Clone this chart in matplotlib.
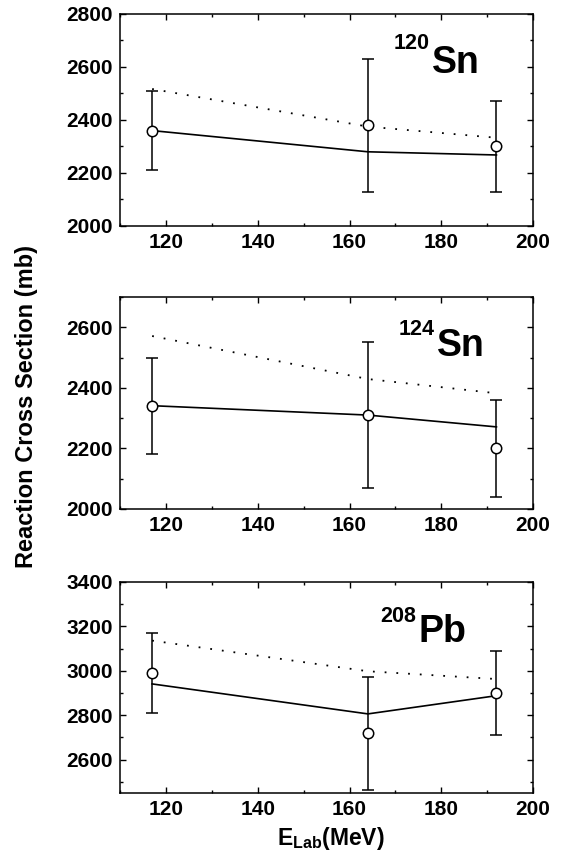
import matplotlib
matplotlib.use('Agg')
import matplotlib.pyplot as plt
from matplotlib.ticker import MultipleLocator

plt.rcParams['font.family'] = ['Liberation Sans', 'DejaVu Sans']
plt.rcParams['font.weight'] = 'bold'
plt.rcParams['mathtext.fontset'] = 'custom'
plt.rcParams['mathtext.rm'] = 'Liberation Sans:bold'
plt.rcParams['mathtext.bf'] = 'Liberation Sans:bold'
plt.rcParams['mathtext.it'] = 'Liberation Sans:bold'

# Energias del haz (MeV)
energia = [117, 164, 192]

# 120Sn
exp_120 = [2360, 2380, 2300]
err_120_sup = [150, 250, 170]
err_120_inf = [150, 250, 170]
calc_120 = [2360, 2280, 2268]
punt_120 = [2517, 2375, 2333]

# 124Sn
exp_124 = [2340, 2310, 2200]
err_124_sup = [160, 240, 160]
err_124_inf = [160, 240, 160]
calc_124 = [2341, 2310, 2271]
punt_124 = [2571, 2429, 2382]

# 208Pb
exp_208 = [2990, 2720, 2900]
err_208_sup = [180, 250, 190]
err_208_inf = [180, 255, 190]
calc_208 = [2941, 2806, 2888]
punt_208 = [3136, 2998, 2963]

masas = ['120', '124', '208']
elementos = ['Sn', 'Sn', 'Pb']

paneles = [
    (exp_120, err_120_inf, err_120_sup, calc_120, punt_120, (2000, 2800), [2000, 2200, 2400, 2600, 2800]),
    (exp_124, err_124_inf, err_124_sup, calc_124, punt_124, (2000, 2700), [2000, 2200, 2400, 2600]),
    (exp_208, err_208_inf, err_208_sup, calc_208, punt_208, (2450, 3400), [2600, 2800, 3000, 3200, 3400]),
]

fig = plt.figure(figsize=(5.66, 8.58), dpi=100)
posiciones = [
    [0.212, 0.7366, 0.730, 0.2471],
    [0.212, 0.4068, 0.730, 0.2471],
    [0.212, 0.0758, 0.730, 0.2459],
]
# posicion de la etiqueta (x izquierda del simbolo, linea base simbolo, linea base superindice)
etiquetas = [(0.755, 0.720, 0.833), (0.768, 0.720, 0.822), (0.722, 0.714, 0.812)]

for pos, (exp, einf, esup, calc, punt, ylim, yticks), masa, elem, (ex, ey, sy) in zip(
        posiciones, paneles, masas, elementos, etiquetas):
    ax = fig.add_axes(pos)
    ax.plot(energia, calc, color='black', lw=1.2, zorder=2)
    ax.plot(energia, punt, color='black', lw=1.3, linestyle=(0, (1, 5.5)), zorder=2)
    ax.errorbar(energia, exp, yerr=[einf, esup], fmt='o', mfc='white', mec='black',
                ms=7.5, mew=1.1, ecolor='black', elinewidth=1.1, capsize=4.5, capthick=1.1, zorder=3)
    ax.set_xlim(110, 200)
    ax.set_ylim(*ylim)
    ax.set_xticks([120, 140, 160, 180, 200])
    ax.set_yticks(yticks)
    ax.xaxis.set_minor_locator(MultipleLocator(10))
    ax.yaxis.set_minor_locator(MultipleLocator(100))
    ax.tick_params(which='both', direction='in', top=True, right=True, width=1.0)
    ax.tick_params(which='major', length=4, labelsize=15, pad=5)
    ax.tick_params(which='minor', length=2.5)
    for lab in ax.get_xticklabels() + ax.get_yticklabels():
        lab.set_fontweight('bold')
    for s in ax.spines.values():
        s.set_linewidth(1.1)
    ax.text(ex, ey, elem, transform=ax.transAxes, ha='left', va='baseline',
            fontsize=27, fontweight='bold')
    ax.text(ex - 0.006, sy, masa, transform=ax.transAxes, ha='right', va='baseline',
            fontsize=15.5, fontweight='bold')

fig.text(0.046, 0.526, 'Reaction Cross Section (mb)', rotation=90, ha='center', va='center',
         fontsize=17, fontweight='bold')
fig.text(0.585, 0.0152, r'E$_{\mathbf{Lab}}$(MeV)', ha='center', va='baseline',
         fontsize=16.5, fontweight='bold')

fig.savefig('out.png', dpi=100)
